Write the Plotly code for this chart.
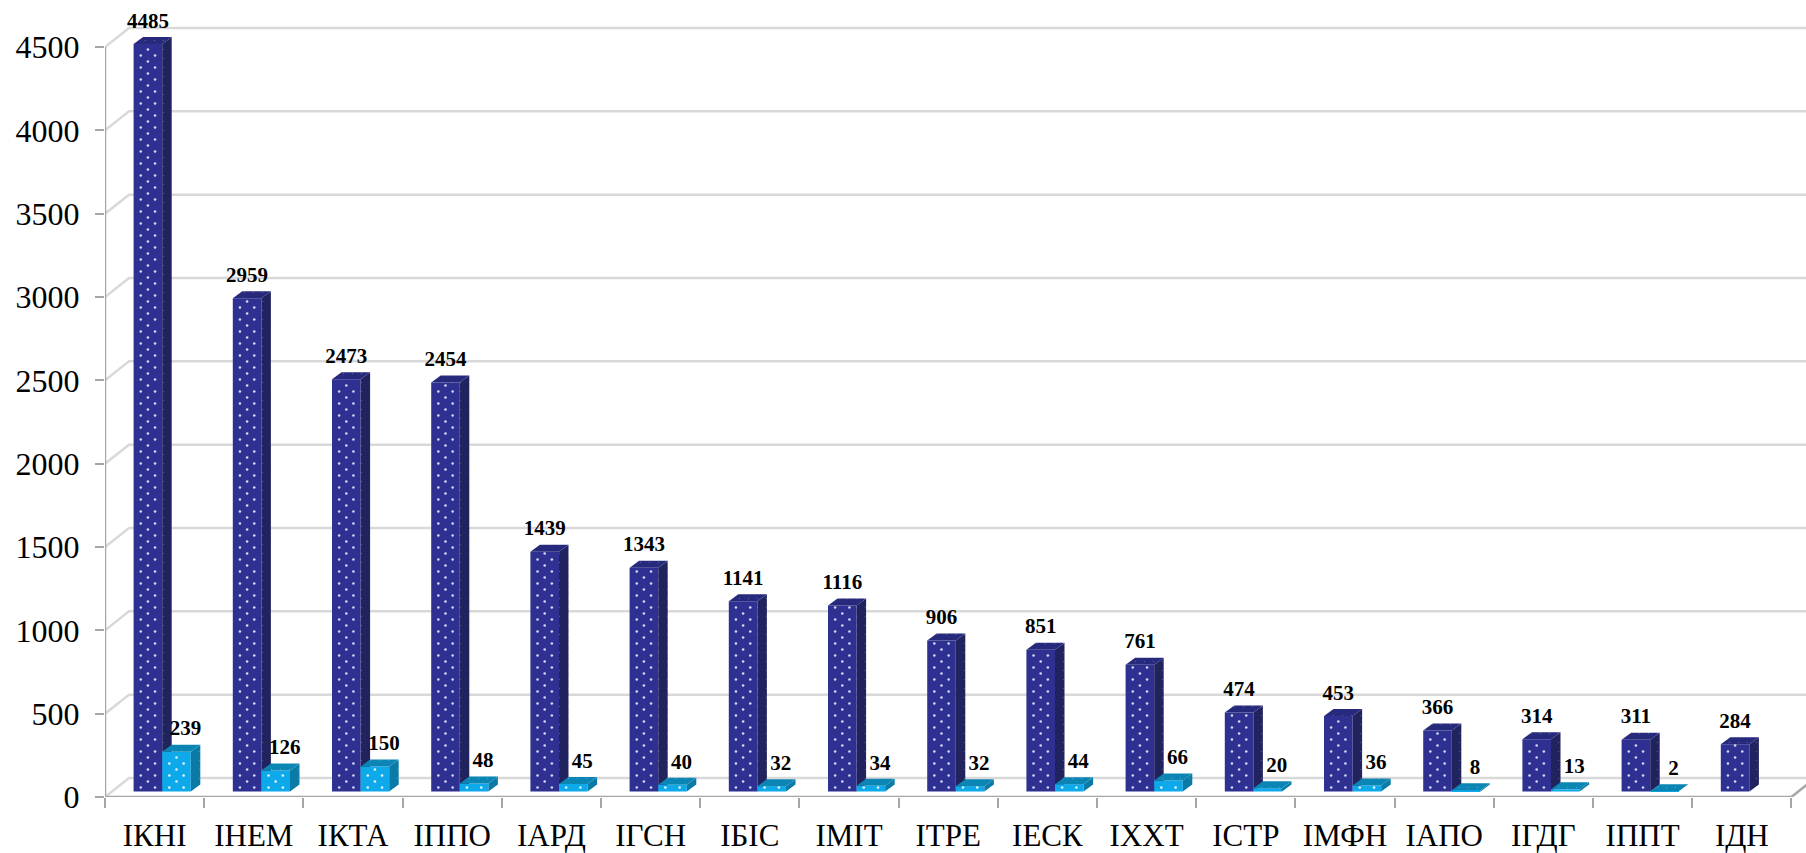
import plotly.graph_objects as go

# faculties, sorted by the first series
categories = ["ІКНІ", "ІНЕМ", "ІКТА", "ІППО", "ІАРД", "ІГСН", "ІБІС", "ІМІТ", "ІТРЕ",
              "ІЕСК", "ІХХТ", "ІСТР", "ІМФН", "ІАПО", "ІГДГ", "ІППТ", "ІДН"]
dark_values = [4485, 2959, 2473, 2454, 1439, 1343, 1141, 1116, 906, 851, 761, 474, 453, 366, 314, 311, 284]
light_values = [239, 126, 150, 48, 45, 40, 32, 34, 32, 44, 66, 20, 36, 8, 13, 2, None]
y_ticks = [0, 500, 1000, 1500, 2000, 2500, 3000, 3500, 4000, 4500]

# fake 3d: everything is in data units, one category is 99.2 px, 6 units are 1 px
CAT_PX = 99.2
UNITS_PER_PX = 6
BAR_W = 28.6 / CAT_PX
BAR_GAP = 28.6 / CAT_PX
DEPTH_X = 9.5 / CAT_PX
DEPTH_Y = 7 * UNITS_PER_PX
BASE = 5.5 * UNITS_PER_PX
WALL_X = 24 / CAT_PX
WALL_Y = 19 * UNITS_PER_PX
LABEL_LIFT = 11 * UNITS_PER_PX

X_MIN = -0.5
X_MAX = X_MIN + 1701 / CAT_PX
Y_MAX = 797 * UNITS_PER_PX

DARK = dict(front="#2E3192", side="#21235F", top="#272A7C", dot="#D5D8F2")
LIGHT = dict(front="#0DA9EA", side="#0A7BA6", top="#0B86B4", dot="#E4F6FD")
SERIF = "Liberation Serif"

fig = go.Figure()


def polygon_trace(xs, ys, color, xaxis, yaxis):
    return go.Scatter(x=xs, y=ys, mode="lines", fill="toself", fillcolor=color,
                      line=dict(width=0), fillpattern=dict(shape=".", fgcolor="rgba(255,255,255,0.4)",
                                                           bgcolor=color, size=9, solidity=0.02),
                      hoverinfo="skip", showlegend=False, xaxis=xaxis, yaxis=yaxis)


def add_series(values, colors, left, xaxis, yaxis):
    xs = [i for i, v in enumerate(values) if v is not None]
    vals = [values[i] for i in xs]
    offset = left - 0.5
    fig.add_trace(go.Bar(x=xs, y=vals, base=BASE, width=BAR_W, offset=offset,
                         marker=dict(color=colors["front"], line_width=0),
                         showlegend=False, xaxis=xaxis, yaxis=yaxis))
    dot_x, dot_y = [], []
    for i, v in zip(xs, vals):
        x0 = i + offset
        x1 = x0 + BAR_W
        bottom = BASE
        top = BASE + v
        fig.add_trace(polygon_trace([x1, x1 + DEPTH_X, x1 + DEPTH_X, x1, x1],
                                    [bottom, bottom + DEPTH_Y, top + DEPTH_Y, top, bottom],
                                    colors["side"], xaxis, yaxis))
        fig.add_trace(polygon_trace([x0, x1, x1 + DEPTH_X, x0 + DEPTH_X, x0],
                                    [top, top, top + DEPTH_Y, top + DEPTH_Y, top],
                                    colors["top"], xaxis, yaxis))
        # staggered dots on the front face, rows 6 px apart
        row = 0
        h = bottom + 4 * UNITS_PER_PX
        while h < top - UNITS_PER_PX:
            across = [0.25, 0.75] if row % 2 == 0 else [0.5]
            for a in across:
                dot_x.append(x0 + a * BAR_W)
                dot_y.append(h)
            h += 6 * UNITS_PER_PX
            row += 1
    fig.add_trace(go.Scatter(x=dot_x, y=dot_y, mode="markers",
                             marker=dict(color=colors["dot"], size=2.6, line_width=0),
                             hoverinfo="skip", showlegend=False, xaxis=xaxis, yaxis=yaxis))


# back wall grid with the short diagonal on the side wall
grid_x, grid_y = [], []
for t in y_ticks:
    grid_x += [X_MIN, X_MIN + WALL_X, X_MAX, None]
    grid_y += [t, t + WALL_Y, t + WALL_Y, None]
fig.add_trace(go.Scatter(x=grid_x, y=grid_y, mode="lines", line=dict(color="#D9D9D9", width=2.5),
                         hoverinfo="skip", showlegend=False))

# front axis lines, floor runs off to the right
fig.add_trace(go.Scatter(x=[X_MIN, X_MIN, 16.5, 16.5 + WALL_X], y=[4500, 0, 0, WALL_Y], mode="lines",
                         line=dict(color="#A6A6A6", width=2.5), hoverinfo="skip", showlegend=False))

# each series on its own overlay so the light bars sit in front of the dark side faces
add_series(dark_values, DARK, BAR_GAP, "x2", "y2")
add_series(light_values, LIGHT, BAR_GAP + BAR_W, "x3", "y3")

# value labels
fig.add_trace(go.Scatter(x=[i - 0.5 + BAR_GAP + BAR_W / 2 for i in range(len(categories))],
                         y=[BASE + v + LABEL_LIFT for v in dark_values],
                         text=[str(v) for v in dark_values], mode="text", textposition="top center",
                         textfont=dict(family=SERIF, size=21, color="black", weight="bold"),
                         hoverinfo="skip", showlegend=False, xaxis="x3", yaxis="y3"))
light_idx = [i for i, v in enumerate(light_values) if v is not None]
fig.add_trace(go.Scatter(x=[i - 0.5 + BAR_GAP + BAR_W * 1.5 + 9 / CAT_PX for i in light_idx],
                         y=[BASE + light_values[i] + LABEL_LIFT for i in light_idx],
                         text=[str(light_values[i]) for i in light_idx], mode="text", textposition="top center",
                         textfont=dict(family=SERIF, size=21, color="black", weight="bold"),
                         hoverinfo="skip", showlegend=False, xaxis="x3", yaxis="y3"))

fig.update_layout(
    width=1806, height=853,
    margin=dict(l=105, r=0, t=0, b=56, autoexpand=False),
    plot_bgcolor="white", paper_bgcolor="white",
    showlegend=False, barmode="overlay",
    xaxis=dict(range=[X_MIN, X_MAX], tickvals=list(range(len(categories))), ticktext=categories,
               ticks="", showgrid=False, zeroline=False, showline=False, ticklabelstandoff=17,
               tickfont=dict(family=SERIF, size=31, color="black"),
               minor=dict(tickvals=[i - 0.5 for i in range(len(categories) + 1)], ticks="outside",
                          ticklen=10, tickwidth=2, tickcolor="#A6A6A6", showgrid=False)),
    yaxis=dict(range=[0, Y_MAX], tickvals=y_ticks, ticks="outside", ticklen=9, tickwidth=2,
               tickcolor="#A6A6A6", showgrid=False, zeroline=False, showline=False, ticklabelstandoff=9,
               tickfont=dict(family=SERIF, size=32, color="black")),
    xaxis2=dict(range=[X_MIN, X_MAX], overlaying="x", visible=False),
    yaxis2=dict(range=[0, Y_MAX], overlaying="y", visible=False),
    xaxis3=dict(range=[X_MIN, X_MAX], overlaying="x", visible=False),
    yaxis3=dict(range=[0, Y_MAX], overlaying="y", visible=False),
)

# the page's default body margin would push the figure 8 px off
fig.write_html("out.html", post_script="document.body.style.margin='0';",
               config=dict(displayModeBar=False))
